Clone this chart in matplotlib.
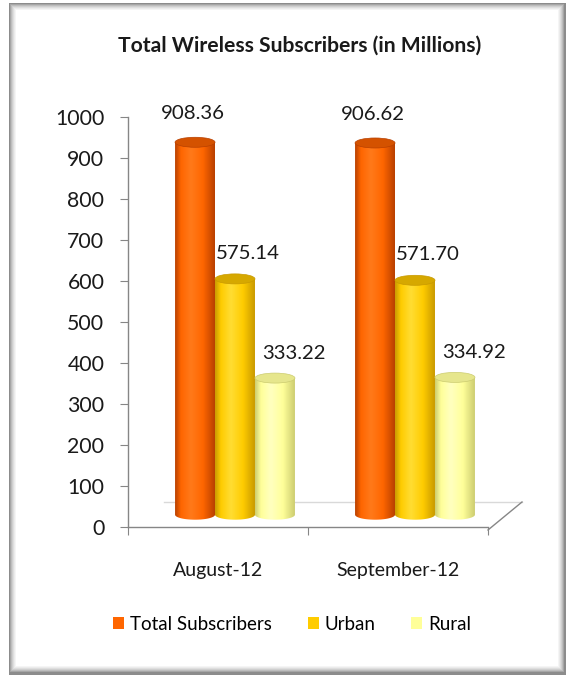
import numpy as np
import matplotlib
matplotlib.use("Agg")
import matplotlib.pyplot as plt
from matplotlib.patches import Rectangle, Ellipse, PathPatch, Patch
from matplotlib.path import Path
from matplotlib.colors import LinearSegmentedColormap

# ---- data ----
categories = ["August-12", "September-12"]
series_names = ["Total Subscribers", "Urban", "Rural"]
total_vals = [908.36, 906.62]
urban_vals = [575.14, 571.70]
rural_vals = [333.22, 334.92]
value_labels = {
    "Total Subscribers": ["908.36", "906.62"],
    "Urban": ["575.14", "571.70"],
    "Rural": ["333.22", "334.92"],
}
y_ticks = [0, 100, 200, 300, 400, 500, 600, 700, 800, 900, 1000]

series_vals = [total_vals, urban_vals, rural_vals]

# ---- style ----
FONT = ["Lato", "DejaVu Sans"]
plt.rcParams["font.family"] = FONT
W, H = 566, 675
fig = plt.figure(figsize=(W / 100, H / 100), dpi=100)
fig.patch.set_facecolor("white")

# frame (bevelled border) in pixel coordinates
def frect(x0, y0, x1, y1, color):
    fig.patches.append(Rectangle((x0 / W, 1 - y1 / H), (x1 - x0) / W, (y1 - y0) / H,
                                 transform=fig.transFigure, facecolor=color,
                                 edgecolor="none", zorder=-10))

frect(9, 3, 566, 675, "#8c8c8c")
shades = ["#a6a6a6", "#bdbdbd", "#cfcfcf", "#dedede", "#ebebeb", "#f5f5f5"]
for i, c in enumerate(shades):
    frect(10 + i, 4 + i, 564 - i, 672 - i, c)
frect(16, 10, 558, 666, "white")

# main axes: y=0 at px 527, y=1000 at px 117; x from 128 to 488
ax_left, ax_right, ax_top, ax_bot = 128, 488, 117, 527
ax = fig.add_axes([ax_left / W, 1 - ax_bot / H, (ax_right - ax_left) / W, (ax_bot - ax_top) / H])
ax.set_facecolor("none")
ax.set_xlim(-0.5, 1.5)
ax.set_ylim(0, 1000)

for s in ["top", "right"]:
    ax.spines[s].set_visible(False)
for s in ["left", "bottom"]:
    ax.spines[s].set_color("#868686")
    ax.spines[s].set_linewidth(1.0)

ax.set_yticks(y_ticks)
ax.set_yticklabels([str(t) for t in y_ticks], fontsize=15.3, color="#1a1a1a")
ax.tick_params(axis="y", direction="out", length=6, color="#868686", pad=11)
ax.set_xticks([-0.5, 0.5, 1.5])
ax.set_xticklabels([])
ax.tick_params(axis="x", direction="out", length=6, color="#868686")
for i, c in enumerate(categories):
    ax.text(i, -105, c, ha="center", va="center", fontsize=14, color="#1a1a1a", clip_on=False)

# 3D floor hints
px = 1 / 180.0  # data units per pixel in x
py = 1000 / 410.0  # data units per pixel in y
ax.plot([-0.5 + 36 * px, 1.5 + 34 * px], [25 * py, 25 * py], color="#d9d9d9", lw=1, clip_on=False)
ax.plot([1.5, 1.5 + 34 * px], [-3 * py, 25 * py], color="#868686", lw=1, clip_on=False)

# cylinder colours: (dark edge, highlight, main, top)
palette = [
    ("#b84000", "#ff7a1a", "#ff6600", "#d45200"),
    ("#c99a00", "#ffdd33", "#ffcc00", "#d6a800"),
    ("#cccc70", "#ffffc0", "#ffff99", "#e6e68c"),
]

bar_w = 0.222
dx = 17 * px
dy = 30
eh = 10 * py

def cylinder(xc, v, cols):
    dark, hi, main, top = cols
    xl, xr = xc - bar_w / 2, xc + bar_w / 2
    y0, y1 = dy, v + dy
    th = np.linspace(np.pi, 2 * np.pi, 40)
    bottom = np.column_stack([xc + bar_w / 2 * np.cos(th), y0 + eh / 2 * np.sin(th)])
    verts = np.vstack([[[xl, y1], [xl, y0]], bottom, [[xr, y0], [xr, y1], [xl, y1]]])
    path = Path(verts, closed=True)
    clip = PathPatch(path, transform=ax.transData, facecolor="none", edgecolor="none")
    cmap = LinearSegmentedColormap.from_list("c", [(0, dark), (0.15, main), (0.4, hi), (0.7, main), (1.0, dark)])
    grad = np.linspace(0, 1, 256)[None, :]
    im = ax.imshow(grad, cmap=cmap, extent=[xl, xr, y0 - eh / 2, y1], aspect="auto",
                   origin="lower", zorder=3, interpolation="bicubic")
    im.set_clip_path(clip)
    ax.add_patch(Ellipse((xc, y1), bar_w, eh, facecolor=top, edgecolor=dark, lw=0.5, zorder=4))

offsets = [-bar_w, 0.0, bar_w]
label_dx = [-2 * px, 13 * px, 19 * px]
label_dy = [99, 93, 91]
for si, (name, vals) in enumerate(zip(series_names, series_vals)):
    for ci, v in enumerate(vals):
        xc = ci + offsets[si] + dx
        cylinder(xc, v, palette[si])
        ax.text(xc + label_dx[si], v + label_dy[si], value_labels[name][ci], ha="center",
                va="center", fontsize=14.7, color="#1a1a1a", zorder=5)

ax.set_xlim(-0.5, 1.5)
ax.set_ylim(0, 1000)

# title
fig.text(300 / W, 1 - 46 / H, "Total Wireless Subscribers (in Millions)", ha="center", va="center",
         fontsize=15.2, fontweight="bold", color="#1a1a1a")

# legend
handles = [Patch(facecolor=palette[i][2], edgecolor="none") for i in range(3)]
leg = fig.legend(handles, series_names, loc="center", bbox_to_anchor=(292 / W, 1 - 624 / H),
                 ncol=3, frameon=False, fontsize=13.5, handlelength=0.6, handleheight=0.6,
                 handletextpad=0.3, columnspacing=1.9)

fig.savefig("out.png", dpi=100)
